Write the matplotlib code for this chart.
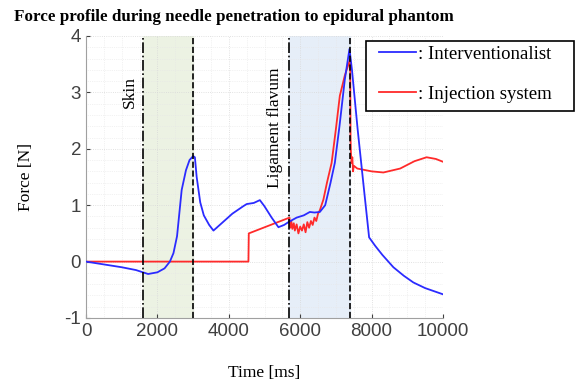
import matplotlib
matplotlib.use('Agg')
import matplotlib.pyplot as plt
from matplotlib.ticker import MultipleLocator
from matplotlib.lines import Line2D
from matplotlib.patches import Rectangle

plt.rcParams['axes.unicode_minus'] = False

# interventionalist (blue)
t_int = [0, 500, 1000, 1400, 1740, 2000, 2200, 2350, 2450, 2550, 2680, 2800, 2900, 3000,
         3050, 3100, 3200, 3300, 3450, 3570, 3800, 4100, 4400, 4500, 4700, 4870, 5000,
         5200, 5390, 5550, 5670, 5900, 6100, 6270, 6400, 6550, 6700, 6850, 6970, 7100,
         7250, 7380, 7450, 7610, 7800, 7930, 8100, 8300, 8610, 8900, 9170, 9500, 10000]
f_int = [0, -0.05, -0.1, -0.15, -0.22, -0.19, -0.12, 0.0, 0.15, 0.45, 1.27, 1.62, 1.8, 1.87,
         1.85, 1.5, 1.05, 0.82, 0.65, 0.55, 0.68, 0.85, 0.98, 1.02, 1.04, 1.09, 0.98,
         0.78, 0.61, 0.65, 0.70, 0.78, 0.82, 0.88, 0.87, 0.88, 1.0, 1.4, 1.75, 2.4,
         3.23, 3.77, 3.4, 2.34, 1.2, 0.43, 0.28, 0.12, -0.1, -0.25, -0.37, -0.47, -0.58]

# injection system (red)
t_inj = [0, 4550, 4560, 5700, 5720, 5750, 5780, 5820, 5850, 5900, 5950, 6000, 6050, 6100,
         6150, 6200, 6250, 6300, 6350, 6400, 6450, 6500, 6550, 6650, 6750, 6880, 7000,
         7110, 7250, 7400, 7410, 7420, 7440, 7460, 7480, 7500, 7600, 8000, 8330, 8800,
         9200, 9540, 9800, 10000]
f_inj = [0, 0, 0.5, 0.78, 0.6, 0.72, 0.58, 0.68, 0.55, 0.66, 0.5, 0.62, 0.55, 0.66,
         0.52, 0.7, 0.6, 0.72, 0.65, 0.78, 0.72, 0.85, 0.91, 1.1, 1.4, 1.75, 2.35,
         2.94, 3.3, 3.59, 2.2, 1.95, 1.75, 1.85, 1.6, 1.7, 1.65, 1.6, 1.58, 1.65,
         1.78, 1.85, 1.82, 1.77]

skin = (1600, 3000)
lig = (5700, 7400)

W, H = 579, 388
fig = plt.figure(figsize=(W/100, H/100), dpi=100)
ax = fig.add_axes([86/W, 1-318/H, 357/W, 282/H])

ax.axvspan(*skin, color='#ecf2e3', zorder=0)
ax.axvspan(*lig, color='#e6eef8', zorder=0)
ax.grid(True, which='major', color='#d8d8d8', lw=0.6, ls=':')
ax.grid(True, which='minor', color='#e6e6e6', lw=0.5, ls=':')
ax.set_axisbelow(True)

ax.plot(t_int, f_int, color='#2b2bff', lw=1.3, zorder=3)
ax.plot(t_inj, f_inj, color='#ff2a2a', lw=1.3, zorder=2)

for x, ls in [(skin[0], '-.'), (skin[1], '--'), (lig[0], '-.'), (lig[1], '--')]:
    ax.axvline(x, color='k', ls=ls, lw=1.2, zorder=4)

ax.text(1220, 3.0, 'Skin', rotation=90, ha='center', va='center',
        family='Liberation Serif', fontsize=12.5)
ax.text(5290, 2.37, 'Ligament flavum', rotation=90, ha='center', va='center',
        family='Liberation Serif', fontsize=12.5)

ax.set_xlim(0, 10000)
ax.set_ylim(-1, 4)
ax.set_xticks([0, 2000, 4000, 6000, 8000, 10000])
ax.set_yticks([-1, 0, 1, 2, 3, 4])
ax.xaxis.set_minor_locator(MultipleLocator(500))
ax.yaxis.set_minor_locator(MultipleLocator(0.2))
ax.tick_params(which='both', direction='in', labelsize=13.5, colors='#404040',
               length=3, top=False, right=False)
ax.tick_params(which='minor', length=0)
for lab in ax.get_xticklabels() + ax.get_yticklabels():
    lab.set_family('Liberation Sans')
for s in ['left', 'bottom']:
    ax.spines[s].set_color('#a0a0a0')
for s in ['top', 'right']:
    ax.spines[s].set_visible(False)

ax.set_xlabel('Time [ms]', family='Liberation Serif', fontsize=12.5, labelpad=18)
ax.set_ylabel('Force [N]', family='Liberation Serif', fontsize=12.5, labelpad=22)

fig.text(14/W, 1-17/H, 'Force profile during needle penetration to epidural phantom',
         family='Liberation Serif', fontweight='bold', fontsize=12.25, va='center', ha='left')

# legend: box drawn by hand so it matches the reference size
fig.patches.append(Rectangle((366/W, 1-111/H), 208/W, 70/H, transform=fig.transFigure,
                             fill=True, facecolor='white', edgecolor='k', lw=1.2, zorder=5))
handles = [Line2D([], [], color='#2b2bff', lw=1.3), Line2D([], [], color='#ff2a2a', lw=1.3)]
leg = fig.legend(handles, [': Interventionalist', ': Injection system'],
                 loc='upper left', bbox_to_anchor=(373/W, 1-40/H), borderaxespad=0,
                 prop={'family': 'Liberation Serif', 'size': 13.5},
                 frameon=False, handlelength=2.0,
                 handletextpad=0.1, labelspacing=1.22, borderpad=0.3)
leg.set_zorder(6)

fig.savefig('out.png', dpi=100)
